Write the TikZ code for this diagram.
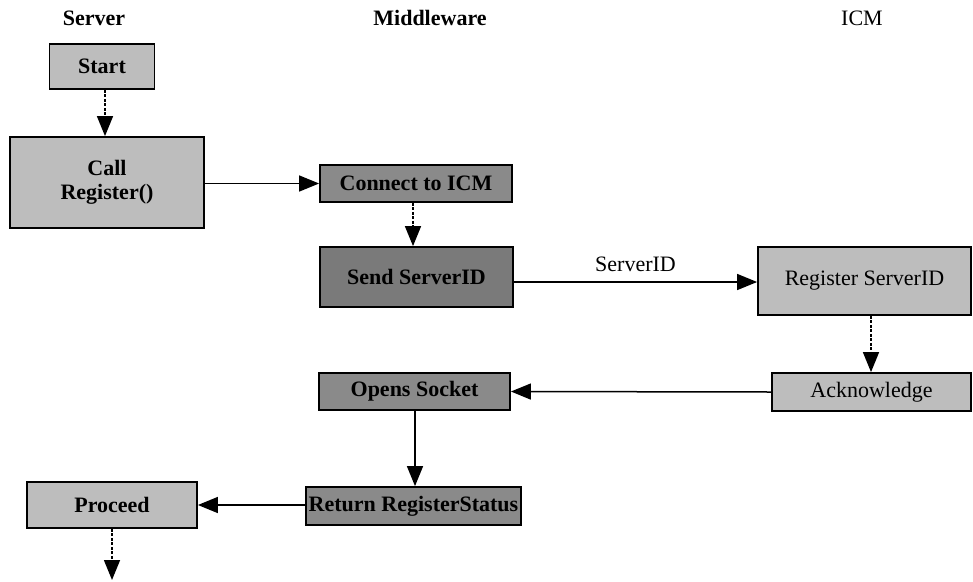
\documentclass[tikz,border=0pt]{standalone}
\usepackage{fontspec}
\setmainfont{Liberation Serif}
\usetikzlibrary{arrows.meta}
\definecolor{lightfill}{HTML}{BDBDBD}
\definecolor{darkfill}{HTML}{8A8A8A}
\definecolor{darkerfill}{HTML}{7A7A7A}
\tikzset{
  box/.style={draw=black, line width=1.8pt, rectangle, inner sep=0pt,
    font=\fontsize{22}{24}\selectfont\bfseries, align=center},
  lightbox/.style={box, fill=lightfill},
  darkbox/.style={box, fill=darkfill},
  plainbox/.style={box, fill=lightfill, font=\fontsize{22}{24}\selectfont},
  title/.style={font=\fontsize{22}{24}\selectfont\bfseries},
  arr/.style={line width=1.5pt, -{Triangle[length=20pt,width=16pt]}},
  darr/.style={arr, dash pattern=on 3pt off 1.5pt},
}
\begin{document}
\begin{tikzpicture}[x=1pt,y=-1pt]
\useasboundingbox (0,0) rectangle (973,581);
% titles
\node[title] (tserver) at (94,18) {Server};
\node[title] (tmid) at (430,18) {Middleware};
\node[title, font=\fontsize{22}{24}\selectfont] (ticm) at (862,18) {ICM};
% boxes
\node[lightbox, minimum width=105pt, minimum height=45pt] (start) at (102,66.5) {Start};
\node[lightbox, minimum width=194pt, minimum height=91pt] (call) at (107,182.5) {Call\\Register()};
\node[darkbox, minimum width=192pt, minimum height=37pt] (connect) at (416,183.5) {Connect to ICM};
\node[darkbox, fill=darkerfill, minimum width=193pt, minimum height=60pt] (send) at (416.5,277) {Send ServerID};
\node[plainbox, minimum width=213pt, minimum height=68pt] (reg) at (864.5,281) {Register ServerID};
\node[plainbox, minimum width=199pt, minimum height=38pt] (ack) at (871.5,392) {Acknowledge};
\node[darkbox, minimum width=191pt, minimum height=37pt] (opens) at (414.5,391.5) {Opens Socket};
\node[darkbox, minimum width=215pt, minimum height=38pt] (ret) at (413.5,506) {Return RegisterStatus};
\node[lightbox, minimum width=170pt, minimum height=46pt] (proceed) at (112,505) {Proceed};
\coordinate (end) at (112,580);
% connectors
\draw[darr] (start.south -| 105,0) -- (call.north -| 105,0);
\draw[arr] (call.east |- 0,183.5) -- (connect.west);
\draw[darr] (connect.south -| 413,0) -- (send.north -| 413,0);
\draw[arr] (send.east |- 0,282) -- node[above=6pt, font=\fontsize{22}{24}\selectfont] (lbl) {ServerID} (reg.west |- 0,282);
\draw[darr] (reg.south -| 871,0) -- (ack.north -| 871,0);
\draw[arr] (ack.west) -- (opens.east);
\draw[arr] (opens.south -| 415,0) -- (ret.north -| 415,0);
\draw[arr] (ret.west |- 0,505) -- (proceed.east);
\draw[darr] (proceed.south) -- (end);
\end{tikzpicture}
\end{document}
